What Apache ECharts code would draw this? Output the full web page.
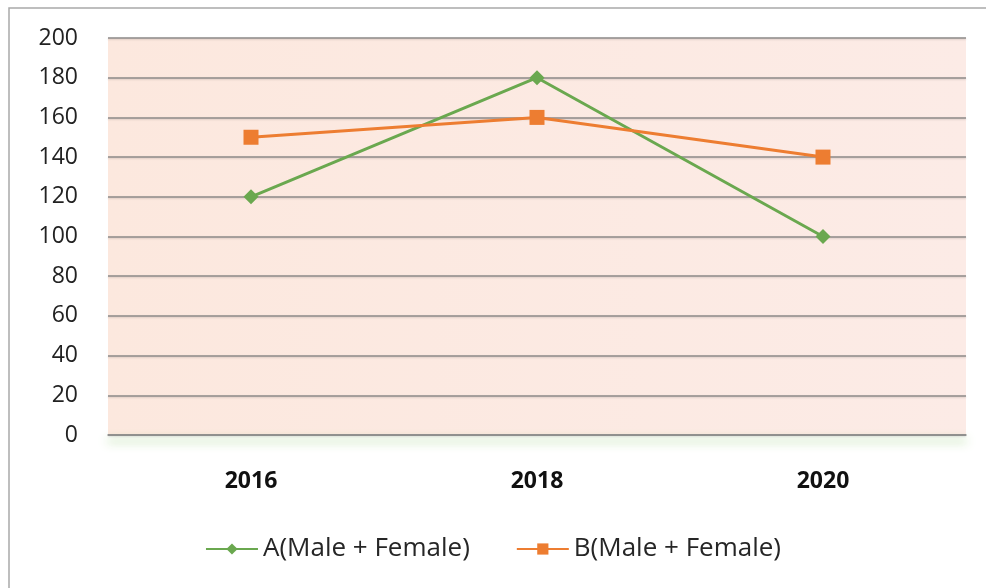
<!DOCTYPE html>
<html>
<head>
<meta charset="utf-8">
<script src="https://cdn.jsdelivr.net/npm/echarts@6/dist/echarts.min.js"></script>
<style>
  html, body { margin: 0; padding: 0; background: #fff; }
  #chart { width: 986px; height: 588px; }
</style>
</head>
<body>
<div id="chart"></div>
<script>
// data
const years = ['2016', '2018', '2020']
const seriesA = [120, 180, 100]
const seriesB = [150, 160, 140]
const yTicks = [0, 20, 40, 60, 80, 100, 120, 140, 160, 180, 200]

const font = 'Open Sans'
const chart = echarts.init(document.getElementById('chart'))

chart.setOption({
  backgroundColor: '#ffffff',
  textStyle: { fontFamily: font },
  // outer frame of the chart area (cut off on right/bottom)
  graphic: [
    {
      type: 'rect',
      silent: true,
      z: -10,
      shape: { x: 9, y: 8, width: 1000, height: 620 },
      style: { fill: 'none', stroke: '#a9a9a9', lineWidth: 1.5 }
    }
  ],
  grid: {
    left: 108,
    right: 20,
    top: 38,
    bottom: 153,
    show: true,
    borderWidth: 0,
    backgroundColor: {
      type: 'linear', x: 0, y: 0, x2: 1, y2: 0,
      colorStops: [
        { offset: 0, color: '#fce8de' },
        { offset: 1, color: '#fcebe6' }
      ]
    }
  },
  legend: {
    bottom: 21,
    left: 'center',
    itemWidth: 52,
    itemHeight: 14,
    itemGap: 46,
    textStyle: { fontSize: 26, color: '#262626', fontFamily: font },
    data: ['A(Male + Female)', 'B(Male + Female)']
  },
  xAxis: {
    type: 'category',
    data: years,
    axisTick: { show: false },
    axisLine: {
      lineStyle: {
        color: '#8a8a8a',
        width: 1.5,
        shadowColor: 'rgba(110,185,70,0.9)',
        shadowBlur: 10,
        shadowOffsetY: 6
      }
    },
    axisLabel: {
      margin: 35,
      fontSize: 23,
      fontWeight: 'bold',
      color: '#111',
      fontFamily: font
    }
  },
  yAxis: {
    type: 'value',
    min: yTicks[0],
    max: yTicks[yTicks.length - 1],
    interval: 20,
    axisLine: { show: false },
    axisTick: { show: false },
    axisLabel: {
      margin: 30,
      fontSize: 23,
      color: '#222',
      fontFamily: font
    },
    splitLine: {
      lineStyle: {
        color: '#8c8a88',
        width: 1.5,
        shadowColor: 'rgba(0,0,0,0.15)',
        shadowBlur: 2,
        shadowOffsetY: 1
      }
    }
  },
  series: [
    {
      name: 'A(Male + Female)',
      type: 'line',
      data: seriesA,
      symbol: 'diamond',
      symbolSize: 15,
      color: '#6aa84f',
      lineStyle: { width: 3, color: '#6aa84f' },
      itemStyle: { color: '#6aa84f' }
    },
    {
      name: 'B(Male + Female)',
      type: 'line',
      data: seriesB,
      symbol: 'rect',
      symbolSize: 15,
      color: '#ed7d31',
      lineStyle: { width: 3, color: '#ed7d31' },
      itemStyle: { color: '#ed7d31' }
    }
  ]
})
</script>
</body>
</html>
